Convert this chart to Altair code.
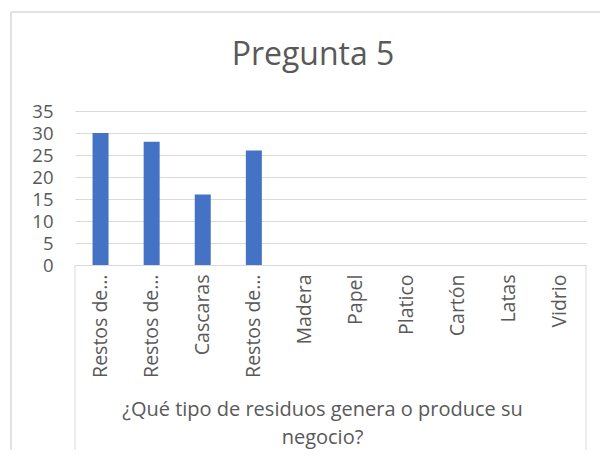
import altair as alt
import pandas as pd

categories = ["Restos de comida", "Restos de frutas", "Cascaras", "Restos de verduras",
              "Madera", "Papel", "Platico", "Cartón", "Latas", "Vidrio"]
values = [30, 28, 16, 26, 0, 0, 0, 0, 0, 0]
y_ticks = [0, 5, 10, 15, 20, 25, 30, 35]
title_text = "Pregunta 5"
x_title = ["¿Qué tipo de residuos genera o produce su", "negocio?"]

df = pd.DataFrame({"cat": categories, "val": values})
one = pd.DataFrame({"a": [0]})

FONT = "Open Sans"
TXT = "#595959"
GRID = "#d9d9d9"

label_expr = "indexof(datum.label, 'Restos de') == 0 ? 'Restos de…' : datum.label"

bars = alt.Chart(df).mark_bar(color="#4472c4", size=16).encode(
    x=alt.X("cat:N", sort=categories,
            scale=alt.Scale(paddingInner=0, paddingOuter=0),
            axis=alt.Axis(title=x_title, labelAngle=270, labelExpr=label_expr,
                          labelFontSize=19.5, labelFont=FONT, labelColor=TXT,
                          labelPadding=9, ticks=False, domainColor=GRID,
                          titleFont=FONT, titleFontSize=20, titleColor=TXT,
                          titleFontWeight="normal", titleX=247, titleY=150,
                          titleBaseline="alphabetic", titleLineHeight=28,
                          titleAnchor="middle", titleAlign="center")),
    y=alt.Y("val:Q", scale=alt.Scale(domain=[0, 35]),
            axis=alt.Axis(title=None, values=y_ticks, labelFontSize=18.5,
                          labelFont=FONT, labelColor=TXT, ticks=False,
                          labelPadding=22, domain=False, gridColor=GRID,
                          gridWidth=1)),
)

title = alt.Chart(one).mark_text(text=title_text, fontSize=32, font=FONT,
                                 color=TXT, baseline="alphabetic",
                                 align="center").encode(
    x=alt.value(238), y=alt.value(-46))

frame_top = alt.Chart(one).mark_rule(color=GRID, strokeWidth=1.5).encode(
    x=alt.value(-64), x2=alt.value(540), y=alt.value(-99))
frame_left = alt.Chart(one).mark_rule(color=GRID, strokeWidth=1.5).encode(
    x=alt.value(-64), y=alt.value(-99), y2=alt.value(360))
box_left = alt.Chart(one).mark_rule(color=GRID, strokeWidth=1).encode(
    x=alt.value(0), y=alt.value(154), y2=alt.value(341))
box_right = alt.Chart(one).mark_rule(color=GRID, strokeWidth=1).encode(
    x=alt.value(511), y=alt.value(154), y2=alt.value(341))

chart = alt.layer(frame_top, frame_left, box_left, box_right, bars, title).properties(
    width=511, height=154,
    autosize=alt.AutoSizeParams(type="none"),
    padding={"left": 67, "top": 103, "right": 14, "bottom": 185},
).configure_view(stroke=None)

chart.save("out.html", embed_options={"renderer": "svg", "actions": False})
